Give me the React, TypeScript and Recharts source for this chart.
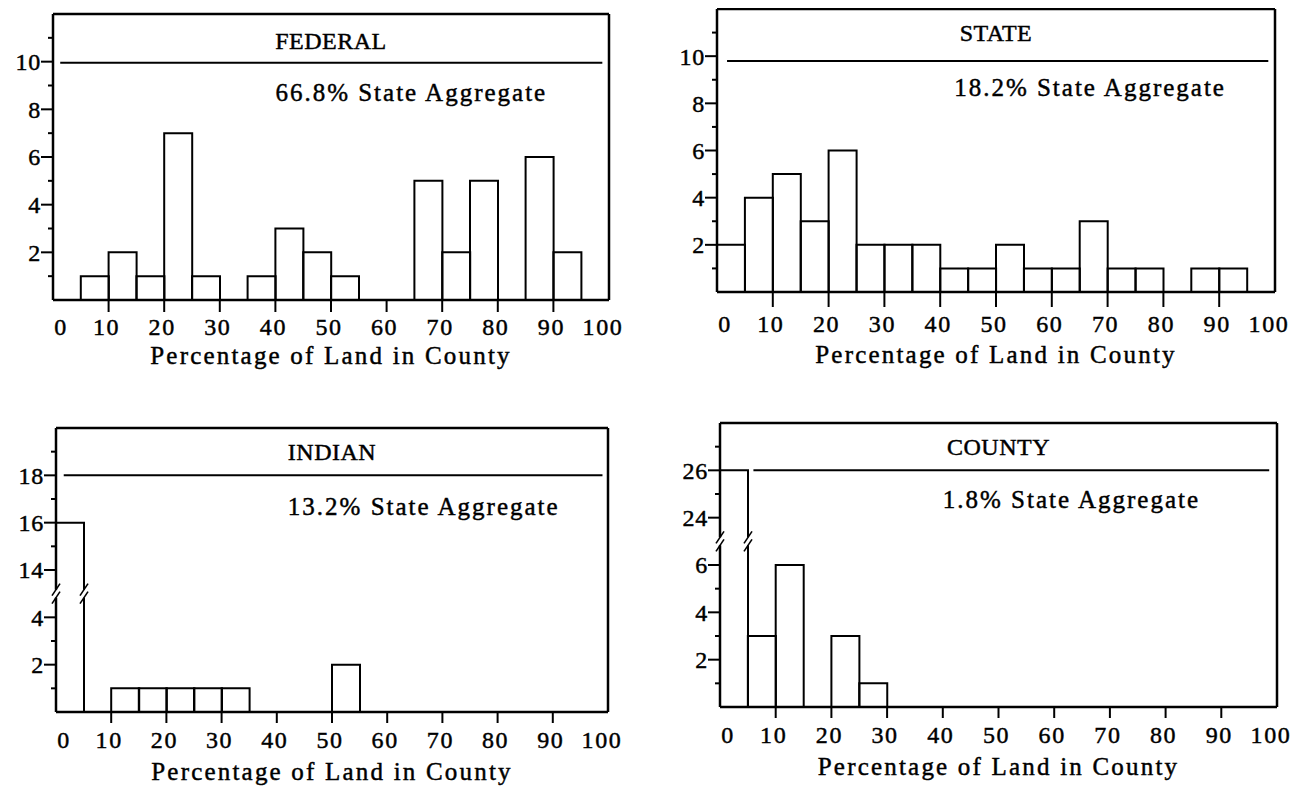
import { BarChart, Bar, XAxis, YAxis, ReferenceLine, ReferenceDot } from "recharts";

// 5-point bins of "percentage of land in county"
const binStarts = [0, 5, 10, 15, 20, 25, 30, 35, 40, 45, 50, 55, 60, 65, 70, 75, 80, 85, 90, 95];
const binLabels = binStarts.map((s) => `${s}-${s + 5}`);

// number of counties per bin
const federalCounts = [0, 1, 2, 1, 7, 1, 0, 1, 3, 2, 1, 0, 0, 5, 2, 5, 0, 6, 2, 0];
const stateCounts = [2, 4, 5, 3, 6, 2, 2, 2, 1, 1, 2, 1, 1, 3, 1, 1, 0, 1, 1, 0];
const indianCounts = [16, 0, 1, 1, 1, 1, 1, 0, 0, 0, 2, 0, 0, 0, 0, 0, 0, 0, 0, 0];
const countyCounts = [26, 3, 6, 0, 3, 1, 0, 0, 0, 0, 0, 0, 0, 0, 0, 0, 0, 0, 0, 0];

const xTickValues = [0, 10, 20, 30, 40, 50, 60, 70, 80, 90, 100];
const yTickPositions = [1, 2, 3, 4, 5, 6, 7, 8, 9, 10, 11];

const titles = ["FEDERAL", "STATE", "INDIAN", "COUNTY"];
const aggregates = ["66.8% State Aggregate", "18.2% State Aggregate", "13.2% State Aggregate", "1.8% State Aggregate"];
const xLabel = "Percentage of Land in County";

const FONT = "'Liberation Serif', 'Times New Roman', serif";
const YAXIS_W = 50;
const M = { top: 10, right: 20, left: 0, bottom: 0 };
const XAXIS_H = 80;

type Break = { at: number; gap: number } | null;

type Panel = {
  title: string;
  aggregate: string;
  counts: number[];
  brk: Break;
  plotLeft: number;
  plotTop: number;
  plotW: number;
  plotH: number;
  titleY: number;
  aggX: number;
  aggY: number;
  sepY: number;
  sepX: [number, number];
  tickLen: number;
  tickBase: number;
  labelBase: number;
};

const panels: Panel[] = [
  {
    title: titles[0], aggregate: aggregates[0], counts: federalCounts, brk: null,
    plotLeft: 53, plotTop: 14, plotW: 556, plotH: 286,
    titleY: 10.9, aggX: 40, aggY: 8.7, sepY: 9.95, sepX: [1.3, 98.8],
    tickLen: 12, tickBase: 35, labelBase: 64,
  },
  {
    title: titles[1], aggregate: aggregates[1], counts: stateCounts, brk: null,
    plotLeft: 717, plotTop: 9, plotW: 558, plotH: 283,
    titleY: 11.0, aggX: 42.5, aggY: 8.7, sepY: 9.8, sepX: [1.8, 98.8],
    tickLen: 15, tickBase: 40, labelBase: 71,
  },
  {
    title: titles[2], aggregate: aggregates[2], counts: indianCounts, brk: { at: 5, gap: 8 },
    plotLeft: 56, plotTop: 428, plotW: 552, plotH: 284,
    titleY: 11.0, aggX: 42, aggY: 8.7, sepY: 10, sepX: [1.4, 99],
    tickLen: 11, tickBase: 36, labelBase: 68,
  },
  {
    title: titles[3], aggregate: aggregates[3], counts: countyCounts, brk: { at: 7, gap: 16 },
    plotLeft: 720, plotTop: 423, plotW: 557, plotH: 284,
    titleY: 11.0, aggX: 40, aggY: 8.77, sepY: 10, sepX: [6, 98.6],
    tickLen: 11, tickBase: 36, labelBase: 68,
  },
];

function makeRows(counts: number[], brk: Break) {
  return binStarts.map((s, i) => {
    const c = counts[i];
    const broken = !!brk && c > brk.at;
    return {
      bin: binLabels[i],
      start: s,
      count: c,
      pos: broken && brk ? c - brk.gap : c,
      broken,
      breakAt: brk ? brk.at : 0,
    };
  });
}

// outline-only histogram bar, with a "//" cut when the value sits above the axis break
function HistBar(props: any) {
  const { x, y, width, height, payload } = props;
  if (!height || height <= 0) return <g />;
  const bottom = y + height;
  const right = x + width;
  const st = { stroke: "#000", strokeWidth: 2, fill: "none" };
  if (!payload.broken) {
    return <path d={`M${x},${bottom}V${y}H${right}V${bottom}`} {...st} />;
  }
  const perUnit = height / payload.pos;
  const by = bottom - payload.breakAt * perUnit;
  const g = 4;
  const slash = (cx: number, yy: number, k: string) => (
    <line key={k} x1={cx - 4} y1={yy + 6} x2={cx + 4} y2={yy - 6} stroke="#000" strokeWidth={1.6} />
  );
  return (
    <g>
      <path d={`M${x},${by - g}V${y}H${right}V${by - g}`} {...st} />
      <path d={`M${x},${by + g}V${bottom}`} {...st} />
      <path d={`M${right},${by + g}V${bottom}`} {...st} />
      {slash(x, by - g, "a")}
      {slash(x, by + g, "b")}
      {slash(right, by - g, "c")}
      {slash(right, by + g, "d")}
    </g>
  );
}

function yLabelFor(pos: number, brk: Break) {
  if (brk && pos > brk.at) return String(pos + brk.gap);
  return String(pos);
}

function HistPanel({ p }: { p: Panel }) {
  const rows = makeRows(p.counts, p.brk);
  const width = YAXIS_W + p.plotW + M.right;
  const height = M.top + p.plotH + XAXIS_H;
  const brk = p.brk;
  const textStyle = { fontFamily: FONT, fill: "#000", stroke: "#000", strokeWidth: 0.45 };

  const yTick = (props: any) => {
    const { x, y, payload } = props;
    const v = payload.value as number;
    const major = v % 2 === 0;
    if (brk && v === brk.at) return <g />;
    return (
      <g>
        <line x1={x - (major ? 12 : 5)} x2={x} y1={y} y2={y} stroke="#000" strokeWidth={2} />
        {major && (
          <text x={x - 12} y={y} dy="0.35em" textAnchor="end" fontSize={24} letterSpacing={0.8} {...textStyle}>
            {yLabelFor(v, brk)}
          </text>
        )}
      </g>
    );
  };

  const xTick = (props: any) => {
    const { x, y, payload } = props;
    const v = payload.value as number;
    const inner = v > 0 && v < 100;
    const shift = v === 0 ? 8 : v === 100 ? -6 : -2;
    return (
      <g>
        {inner && <line x1={x} x2={x} y1={y} y2={y + p.tickLen} stroke="#000" strokeWidth={2} />}
        <text x={x + shift} y={y + p.tickBase} textAnchor="middle" fontSize={24} letterSpacing={1.6} {...textStyle}>
          {String(v)}
        </text>
      </g>
    );
  };

  const leftSegments: [number, number][] = brk
    ? [[0, brk.at - 0.17], [brk.at + 0.17, 12]]
    : [[0, 12]];

  return (
    <div style={{ position: "absolute", left: p.plotLeft - YAXIS_W, top: p.plotTop - M.top }}>
      <BarChart width={width} height={height} data={rows} margin={M} barCategoryGap={0} barGap={0}>
        <XAxis
          xAxisId="num"
          dataKey="start"
          type="number"
          domain={[0, 100]}
          ticks={xTickValues}
          interval={0}
          allowDataOverflow
          height={XAXIS_H}
          axisLine={false}
          tickLine={false}
          tickSize={0}
          tickMargin={0}
          tick={xTick}
          label={{
            content: (lp: any) => {
              const vb = lp.viewBox || {};
              return (
                <text
                  x={vb.x + vb.width / 2}
                  y={vb.y + p.labelBase}
                  textAnchor="middle"
                  fontSize={25}
                  letterSpacing={2.2}
                  {...textStyle}
                >
                  {xLabel}
                </text>
              );
            },
          }}
        />
        <XAxis xAxisId="cat" dataKey="bin" type="category" hide height={0} />
        <YAxis
          type="number"
          domain={[0, 12]}
          ticks={yTickPositions}
          interval={0}
          allowDataOverflow
          width={YAXIS_W}
          axisLine={false}
          tickLine={false}
          tickSize={0}
          tickMargin={0}
          tick={yTick}
        />
        <Bar xAxisId="cat" dataKey="pos" shape={HistBar} isAnimationActive={false} />

        {/* frame */}
        <ReferenceLine xAxisId="num" y={0} stroke="#000" strokeWidth={2.5} />
        <ReferenceLine xAxisId="num" y={12} stroke="#000" strokeWidth={2.5} />
        <ReferenceLine xAxisId="num" x={100} stroke="#000" strokeWidth={2.5} />
        {leftSegments.map(([a, b], i) => (
          <ReferenceLine
            key={i}
            xAxisId="num"
            segment={[{ x: 0, y: a }, { x: 0, y: b }]}
            stroke="#000"
            strokeWidth={2.5}
          />
        ))}

        {/* title separator */}
        <ReferenceLine
          xAxisId="num"
          segment={[{ x: p.sepX[0], y: p.sepY }, { x: p.sepX[1], y: p.sepY }]}
          stroke="#000"
          strokeWidth={2}
        />
        <ReferenceDot
          xAxisId="num"
          x={50}
          y={p.titleY}
          r={0}
          stroke="none"
          label={{
            content: (lp: any) => {
              const vb = lp.viewBox || {};
              return (
                <text x={vb.x + (vb.width || 0) / 2} y={vb.y + (vb.height || 0) / 2} dy="0.35em" textAnchor="middle" fontSize={24} letterSpacing={0.5} {...textStyle}>
                  {p.title}
                </text>
              );
            },
          }}
        />
        <ReferenceDot
          xAxisId="num"
          x={p.aggX}
          y={p.aggY}
          r={0}
          stroke="none"
          label={{
            content: (lp: any) => {
              const vb = lp.viewBox || {};
              return (
                <text x={vb.x + (vb.width || 0) / 2} y={vb.y + (vb.height || 0) / 2} dy="0.35em" textAnchor="start" fontSize={25} letterSpacing={2} {...textStyle}>
                  {p.aggregate}
                </text>
              );
            },
          }}
        />
      </BarChart>
    </div>
  );
}

export default function App() {
  return (
    <div style={{ position: "relative", width: 1307, height: 787, margin: "-8px 0 0 -8px", background: "#fff", overflow: "hidden" }}>
      {panels.map((p) => (
        <HistPanel key={p.title} p={p} />
      ))}
    </div>
  );
}
